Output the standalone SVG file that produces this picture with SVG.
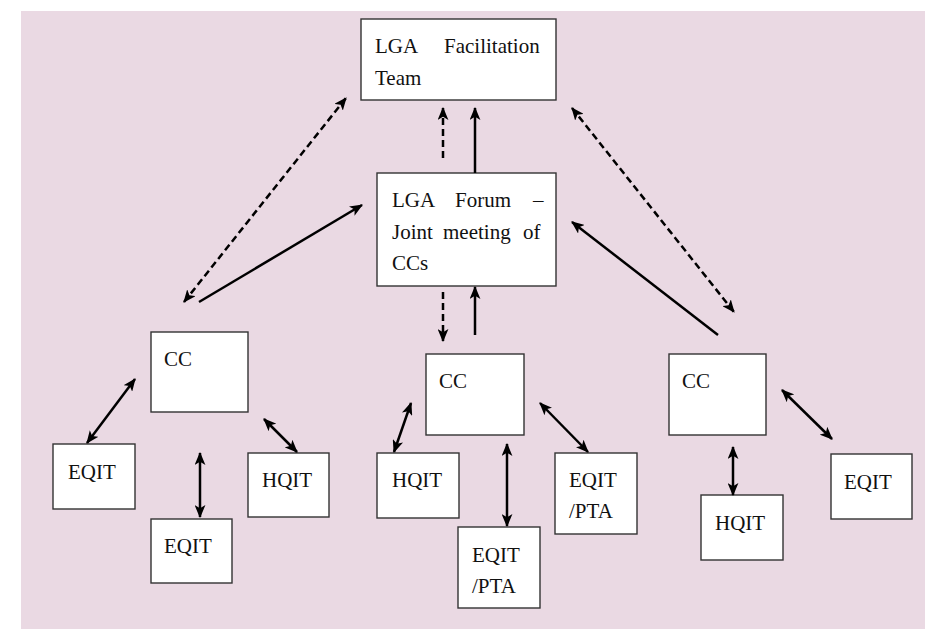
<svg xmlns="http://www.w3.org/2000/svg" width="925" height="630" viewBox="0 0 925 630">
<style>
.bx{fill:#fff;stroke:#333;stroke-width:1.4}
.t{font-family:"Liberation Serif","Times New Roman",serif;font-size:21px;fill:#111}
.s{stroke:#000;stroke-width:2.5;fill:none}
.d{stroke:#000;stroke-width:2.5;fill:none;stroke-dasharray:7 4}
</style>
<defs>
<marker id="ah" viewBox="0 0 12 10" refX="11" refY="5" markerWidth="13" markerHeight="11" markerUnits="userSpaceOnUse" orient="auto-start-reverse">
<path d="M0,0 L12,5 L0,10 L3,5 z" fill="#000"/>
</marker>
</defs>
<rect x="21" y="11" width="904" height="618" fill="#EAD9E3"/>
<g id="team"><rect class="bx" x="361" y="19" width="195" height="81"/>
<text class="t" x="375" y="53">LGA</text><text class="t" x="444" y="53">Facilitation</text>
<text class="t" x="375" y="85">Team</text></g>
<g id="forum"><rect class="bx" x="377" y="173" width="179" height="113"/>
<text class="t" x="392" y="207">LGA</text><text class="t" x="455" y="207">Forum</text><text class="t" x="533" y="207">–</text>
<text class="t" x="392" y="239">Joint</text><text class="t" x="443" y="239">meeting</text><text class="t" x="523" y="239">of</text>
<text class="t" x="392" y="270">CCs</text></g>
<g id="cc1"><rect class="bx" x="151" y="332" width="97" height="80"/><text class="t" x="164" y="366">CC</text></g>
<g id="cc2"><rect class="bx" x="426" y="354" width="98" height="81"/><text class="t" x="439" y="388">CC</text></g>
<g id="cc3"><rect class="bx" x="669" y="354" width="97" height="81"/><text class="t" x="682" y="388">CC</text></g>
<g id="eqit1"><rect class="bx" x="53" y="444" width="82" height="65"/><text class="t" x="68" y="479">EQIT</text></g>
<g id="eqit2"><rect class="bx" x="151" y="519" width="81" height="64"/><text class="t" x="164" y="553">EQIT</text></g>
<g id="hqit1"><rect class="bx" x="248" y="453" width="81" height="64"/><text class="t" x="262" y="487">HQIT</text></g>
<g id="hqit2"><rect class="bx" x="377" y="453" width="82" height="65"/><text class="t" x="392" y="487">HQIT</text></g>
<g id="eqitpta1"><rect class="bx" x="458" y="527" width="82" height="81"/><text class="t" x="472" y="562">EQIT</text><text class="t" x="472" y="593">/PTA</text></g>
<g id="eqitpta2"><rect class="bx" x="555" y="453" width="82" height="81"/><text class="t" x="569" y="487">EQIT</text><text class="t" x="569" y="518">/PTA</text></g>
<g id="hqit3"><rect class="bx" x="701" y="495" width="82" height="65"/><text class="t" x="715" y="530">HQIT</text></g>
<g id="eqit3"><rect class="bx" x="831" y="454" width="81" height="65"/><text class="t" x="844" y="489">EQIT</text></g>
<g id="connectors">
<line class="d" x1="184" y1="302" x2="346" y2="98" marker-start="url(#ah)" marker-end="url(#ah)"/>
<line class="s" x1="199" y1="302" x2="362" y2="205" marker-end="url(#ah)"/>
<line class="d" x1="443" y1="158" x2="443" y2="108" marker-end="url(#ah)"/>
<line class="s" x1="475" y1="173" x2="475" y2="108" marker-end="url(#ah)"/>
<line class="d" x1="443" y1="292" x2="443" y2="341" marker-end="url(#ah)"/>
<line class="s" x1="475" y1="335" x2="475" y2="287" marker-end="url(#ah)"/>
<line class="d" x1="572" y1="108" x2="734" y2="312" marker-start="url(#ah)" marker-end="url(#ah)"/>
<line class="s" x1="718" y1="335" x2="572" y2="222" marker-end="url(#ah)"/>
<line class="s" x1="87" y1="443" x2="135" y2="379" marker-start="url(#ah)" marker-end="url(#ah)"/>
<line class="s" x1="200" y1="453" x2="200" y2="517" marker-start="url(#ah)" marker-end="url(#ah)"/>
<line class="s" x1="264" y1="419" x2="297" y2="452" marker-start="url(#ah)" marker-end="url(#ah)"/>
<line class="s" x1="394" y1="452" x2="411" y2="403" marker-start="url(#ah)" marker-end="url(#ah)"/>
<line class="s" x1="507" y1="444" x2="507" y2="526" marker-start="url(#ah)" marker-end="url(#ah)"/>
<line class="s" x1="540" y1="403" x2="588" y2="452" marker-start="url(#ah)" marker-end="url(#ah)"/>
<line class="s" x1="782" y1="390" x2="832" y2="439" marker-start="url(#ah)" marker-end="url(#ah)"/>
<line class="s" x1="733" y1="447" x2="733" y2="495" marker-start="url(#ah)" marker-end="url(#ah)"/>
</g>
</svg>
